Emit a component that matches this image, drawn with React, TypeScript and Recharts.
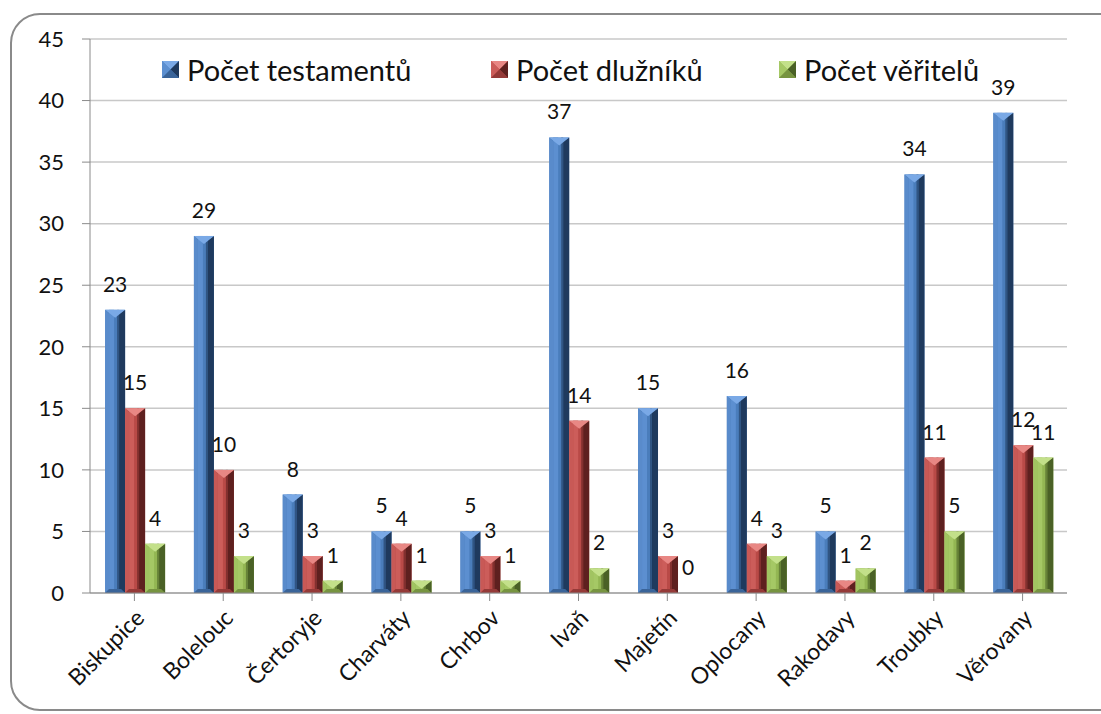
import React from 'react';
import { BarChart, Bar, XAxis, YAxis, CartesianGrid, Legend, LabelList } from 'recharts';

const categories = ['Biskupice', 'Bolelouc', 'Čertoryje', 'Charváty', 'Chrbov', 'Ivaň', 'Majetín', 'Oplocany', 'Rakodavy', 'Troubky', 'Věrovany'];
const testamenty = [23, 29, 8, 5, 5, 37, 15, 16, 5, 34, 39];
const dluznici = [15, 10, 3, 4, 3, 14, 3, 4, 1, 11, 12];
const veritele = [4, 3, 1, 1, 1, 2, 0, 3, 2, 5, 11];
const yTicks = [0, 5, 10, 15, 20, 25, 30, 35, 40, 45];

const seriesNames = ['Počet testamentů', 'Počet dlužníků', 'Počet věřitelů'];

const palettes: Record<string, { base: string; light: string; top: string; dark: string; bottom: string }> = {
  blue: { base: '#4a7dbb', light: '#5c8fd0', top: '#7aa9e6', dark: '#1f3a5e', bottom: '#3a6499' },
  red: { base: '#b94a47', light: '#cc5d5a', top: '#e88784', dark: '#5e201f', bottom: '#953a38' },
  green: { base: '#93b653', light: '#a5c865', top: '#c3e08a', dark: '#4a6126', bottom: '#779440' },
};
const paletteKeys = ['blue', 'red', 'green'];

const data = categories.map((c, i) => ({
  name: c,
  t: testamenty[i],
  d: dluznici[i],
  v: veritele[i],
}));

const FONT = 'Lato, "Open Sans", sans-serif';

function makeShape(key: string) {
  const p = palettes[key];
  return (props: any) => {
    const { x, y, width: w, height: h } = props;
    if (!h || h <= 0 || !w) return null;
    const b = Math.min(4, w / 4, h / 2);
    const t = Math.min(8, h);
    return (
      <g>
        <rect x={x} y={y} width={w} height={h} fill={p.base} />
        <rect x={x + b} y={y} width={w * 0.45 - b} height={h} fill={p.light} />
        <polygon points={`${x},${y} ${x + b},${y + b} ${x + b},${y + h - b} ${x},${y + h}`} fill={p.light} opacity={0.8} />
        <polygon points={`${x + w},${y} ${x + w - b - 2},${y + b} ${x + w - b - 2},${y + h - b} ${x + w},${y + h}`} fill={p.dark} />
        <rect x={x + w * 0.6} y={y} width={w * 0.4 - b - 2} height={h} fill={p.dark} opacity={0.6} />
        <polygon points={`${x},${y + h} ${x + w},${y + h} ${x + w - b},${y + h - b} ${x + b},${y + h - b}`} fill={p.bottom} />
        <polygon points={`${x},${y} ${x + w},${y} ${x + w / 2},${y + t}`} fill={p.top} />
      </g>
    );
  };
}

const shapes = paletteKeys.map((k) => makeShape(k));

const LegendMarker = ({ k }: { k: string }) => {
  const p = palettes[k];
  return (
    <svg width={17} height={17} style={{ marginRight: 8 }}>
      <rect x={0} y={0} width={17} height={17} fill={p.base} />
      <polygon points="0,0 17,0 8.5,8.5" fill={p.top} />
      <polygon points="0,0 8.5,8.5 0,17" fill={p.light} />
      <polygon points="17,0 8.5,8.5 17,17" fill={p.dark} />
      <polygon points="0,17 17,17 8.5,8.5" fill={p.bottom} />
    </svg>
  );
};

const renderLegend = () => (
  <div style={{ display: 'flex', alignItems: 'center', fontFamily: FONT, fontSize: 29, color: '#111' }}>
    {seriesNames.map((n, i) => (
      <div key={n} style={{ display: 'flex', alignItems: 'center', position: 'absolute', left: [162, 491, 779][i], top: -2, whiteSpace: 'nowrap' }}>
        <LegendMarker k={paletteKeys[i]} />
        <span>{n}</span>
      </div>
    ))}
  </div>
);

const XTick = (props: any) => {
  const { x, y, payload } = props;
  return (
    <g transform={`translate(${x + 5},${y + 10})`}>
      <text x={0} y={0} dy={9} textAnchor="end" transform="rotate(-45)" fontFamily={FONT} fontSize={23} fill="#111">
        {payload.value}
      </text>
    </g>
  );
};

const labelStyle = { fontFamily: FONT, fontSize: 21, fill: '#111' };

export default function App() {
  return (
    <div style={{ position: 'absolute', left: 0, top: 0, width: 1101, height: 714, overflow: 'hidden', background: '#fff' }}>
      <div
        style={{
          position: 'absolute',
          left: 10,
          top: 13,
          width: 1120,
          height: 698,
          border: '2px solid #8a8a8a',
          borderRadius: 30,
          boxSizing: 'border-box',
        }}
      />
      <div style={{ position: 'absolute', left: 0, top: 0 }}>
        <BarChart
          width={1101}
          height={714}
          data={data}
          margin={{ top: 39, right: 34, bottom: 21, left: 30 }}
          barCategoryGap="17%"
          barGap={0}
        >
          <CartesianGrid vertical={false} stroke="#c8c8c8" strokeWidth={1.5} />
          <XAxis
            dataKey="name"
            height={100}
            interval={0}
            tick={<XTick />}
            tickLine={{ stroke: '#8a8a8a' }}
            tickSize={8}
            axisLine={{ stroke: '#8a8a8a' }}
            scale="band"
          />
          <YAxis
            width={60}
            domain={[0, 45]}
            ticks={yTicks}
            interval={0}
            tickSize={8}
            tickLine={{ stroke: '#8a8a8a' }}
            axisLine={{ stroke: '#8a8a8a' }}
            tick={{ fontFamily: FONT, fontSize: 22, fill: '#111' }}
            tickMargin={18}
          />
          <Legend
            content={renderLegend}
            layout="horizontal"
            verticalAlign="middle"
            align="center"
            wrapperStyle={{ position: 'absolute', top: 54, left: 0, width: 1101, height: 30 }}
          />
          <Bar dataKey="t" name={seriesNames[0]} shape={shapes[0]} isAnimationActive={false}>
            <LabelList dataKey="t" position="top" offset={18} style={labelStyle} />
          </Bar>
          <Bar dataKey="d" name={seriesNames[1]} shape={shapes[1]} isAnimationActive={false}>
            <LabelList dataKey="d" position="top" offset={18} style={labelStyle} />
          </Bar>
          <Bar dataKey="v" name={seriesNames[2]} shape={shapes[2]} isAnimationActive={false}>
            <LabelList dataKey="v" position="top" offset={18} style={labelStyle} />
          </Bar>
        </BarChart>
      </div>
    </div>
  );
}
